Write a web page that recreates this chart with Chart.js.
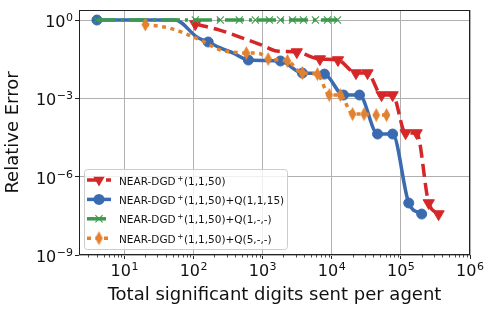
<!DOCTYPE html>
<html lang="en">
<head>
  <meta charset="UTF-8" />
  <title>Relative error vs digits sent</title>
  <style>
    body { margin: 0; background: #fff; }
    canvas { display: block; }
  </style>
</head>
<body>
  <canvas id="errChart" width="492" height="311"></canvas>

  <script src="https://cdn.jsdelivr.net/npm/chart.js"></script>
  <script>
    // series (x = total significant digits, y = relative error)
    const redX = [106, 239, 515, 970, 1600, 3120, 6730, 12300, 22400, 32900, 52500, 75900, 117000, 169000, 253000, 351000];
    const redY = [0.70, 0.41, 0.204, 0.110, 0.065, 0.0594, 0.032, 0.0294, 0.0093, 0.0093, 0.00134, 0.00134, 4.7e-5, 4.7e-5, 9.8e-8, 3.7e-8];
    const redMarks = [0, 5, 6, 7, 8, 9, 10, 11, 12, 13, 14, 15];

    const blueX = [4, 54, 113, 163, 244, 376, 621, 1810, 3760, 7830, 14800, 25200, 46000, 75900, 130000, 200000];
    const blueY = [1, 1, 0.22, 0.144, 0.085, 0.054, 0.0293, 0.0269, 0.0093, 0.0085, 0.00134, 0.00134, 4.3e-5, 4.3e-5, 9.8e-8, 3.7e-8];
    const blueMarks = [0, 3, 6, 7, 8, 9, 10, 11, 12, 13, 14, 15];

    const greenX = [4, 106, 244, 459, 783, 1250, 1810, 2700, 3890, 5800, 8670, 12100];
    const greenY = [1, 1, 1, 1, 1, 1, 1, 1, 1, 1, 1, 1];
    const greenMarks = [0, 1, 2, 3, 4, 5, 6, 7, 8, 9, 10, 11];

    const orangeX = [20, 44.5, 117, 245, 376, 580, 870, 1200, 2280, 3760, 6200, 9200, 13300, 20000, 29300, 44000, 62000];
    const orangeY = [0.67, 0.49, 0.187, 0.071, 0.059, 0.054, 0.054, 0.032, 0.027, 0.0093, 0.0085, 0.00134, 0.00134, 2.5e-4, 2.5e-4, 2.3e-4, 2.3e-4];
    const orangeMarks = [0, 5, 7, 8, 9, 10, 11, 12, 13, 14, 15, 16];

    // legend names: base, superscript, rest
    const seriesNames = [
      ['NEAR-DGD', '+', '(1,1,50)'],
      ['NEAR-DGD', '+', '(1,1,50)+Q(1,1,15)'],
      ['NEAR-DGD', '+', '(1,1,50)+Q(1,-,-)'],
      ['NEAR-DGD', '+', '(1,1,50)+Q(5,-,-)']
    ];
    const xTicks = [10, 100, 1000, 1e4, 1e5, 1e6];
    const yTicks = [1e-9, 1e-6, 1e-3, 1];

    const RED = '#d62728', BLUE = '#3a6bb0', GREEN = '#3d9a4c', ORANGE = '#e2812f';
    const FONT = '"DejaVu Sans", sans-serif';
    const INK = '#111';

    Chart.defaults.font.family = FONT;
    Chart.defaults.color = INK;

    // thin diamond marker (matplotlib 'd')
    function makeDiamond(color) {
      const cv = document.createElement('canvas');
      cv.width = 9; cv.height = 15;
      const g = cv.getContext('2d');
      g.fillStyle = color;
      g.beginPath();
      g.moveTo(4.5, 0.5); g.lineTo(8.3, 7.5); g.lineTo(4.5, 14.5); g.lineTo(0.7, 7.5);
      g.closePath();
      g.fill();
      return cv;
    }
    const diamond = makeDiamond(ORANGE);

    const pts = (xs, ys) => xs.map((x, i) => ({ x: x, y: ys[i] }));
    const radii = (xs, marks, r) => xs.map((_, i) => marks.includes(i) ? r : 0);
    const expo = v => String(Math.round(Math.log10(v))).replace('-', '\u2212');

    const datasets = [
      {
        label: seriesNames[0].join(''), data: pts(redX, redY), order: 4,
        borderColor: RED, borderWidth: 3.5, borderDash: [13, 6],
        pointStyle: 'triangle', pointRotation: 180, pointRadius: radii(redX, redMarks, 6.5),
        pointBackgroundColor: RED, pointBorderColor: RED, pointBorderWidth: 1
      },
      {
        label: seriesNames[1].join(''), data: pts(blueX, blueY), order: 3,
        borderColor: BLUE, borderWidth: 3.5,
        pointStyle: 'circle', pointRadius: radii(blueX, blueMarks, 5),
        pointBackgroundColor: BLUE, pointBorderColor: BLUE, pointBorderWidth: 1
      },
      {
        label: seriesNames[2].join(''), data: pts(greenX, greenY), order: 2,
        borderColor: GREEN, borderWidth: 3.5, borderDash: [19, 5, 3, 5],
        pointStyle: 'crossRot', pointRadius: radii(greenX, greenMarks, 5),
        pointBackgroundColor: GREEN, pointBorderColor: GREEN, pointBorderWidth: 1.1
      },
      {
        label: seriesNames[3].join(''), data: pts(orangeX, orangeY), order: 1,
        borderColor: ORANGE, borderWidth: 3.5, borderDash: [4, 4.5],
        pointStyle: diamond, pointRadius: radii(orangeX, orangeMarks, 5),
        pointBackgroundColor: ORANGE, pointBorderColor: ORANGE
      }
    ];

    function drawMarker(c, i, x, y) {
      const col = [RED, BLUE, GREEN, ORANGE][i];
      c.fillStyle = col; c.strokeStyle = col; c.setLineDash([]);
      c.beginPath();
      if (i === 0) {
        const r = 6.5;
        c.moveTo(x - r * 0.866, y - r * 0.5); c.lineTo(x + r * 0.866, y - r * 0.5); c.lineTo(x, y + r);
        c.closePath(); c.fill();
      } else if (i === 1) {
        c.arc(x, y, 5.5, 0, Math.PI * 2); c.fill();
      } else if (i === 2) {
        c.lineWidth = 1.1;
        c.moveTo(x - 3.6, y - 3.6); c.lineTo(x + 3.6, y + 3.6);
        c.moveTo(x + 3.6, y - 3.6); c.lineTo(x - 3.6, y + 3.6);
        c.stroke();
      } else {
        c.drawImage(diamond, x - 4.5, y - 7.5);
      }
    }

    // "10" with a raised exponent; align: 'center' or 'right'
    function powText(c, v, x, baseline, align) {
      const e = expo(v);
      c.font = '16px ' + FONT;
      const w1 = c.measureText('10').width;
      c.font = '11px ' + FONT;
      const w2 = c.measureText(e).width;
      const total = w1 + w2 + 0.5;
      const x0 = align === 'right' ? x - total : x - total / 2;
      c.textAlign = 'left'; c.textBaseline = 'alphabetic'; c.fillStyle = INK;
      c.font = '16px ' + FONT;
      c.fillText('10', x0, baseline);
      c.font = '11px ' + FONT;
      c.fillText(e, x0 + w1 + 0.5, baseline - 6);
    }

    // frame, tick labels, minor ticks and legend box
    const extras = {
      id: 'extras',
      afterDraw(chart) {
        const c = chart.ctx, a = chart.chartArea, xs = chart.scales.x, ys = chart.scales.y;
        c.save();
        c.strokeStyle = '#222'; c.lineWidth = 1;
        c.strokeRect(a.left + 0.5, a.top + 0.5, a.right - a.left - 1, a.bottom - a.top - 1);
        c.lineWidth = 0.8;
        c.beginPath();
        for (let d = 0; d < 6; d++) {
          for (let m = 2; m < 10; m++) {
            const v = m * Math.pow(10, d);
            if (v < xs.min || v > xs.max) continue;
            const px = Math.round(xs.getPixelForValue(v)) + 0.5;
            c.moveTo(px, a.bottom); c.lineTo(px, a.bottom + 2.5);
          }
        }
        c.stroke();

        xTicks.forEach(v => powText(c, v, xs.getPixelForValue(v), a.bottom + 21, 'center'));
        yTicks.forEach(v => powText(c, v, a.left - 6, ys.getPixelForValue(v) + 7, 'right'));

        // legend
        const bx = 84.5, by = 169.5, bw = 203, bh = 80, rr = 3;
        c.beginPath();
        c.moveTo(bx + rr, by); c.arcTo(bx + bw, by, bx + bw, by + bh, rr);
        c.arcTo(bx + bw, by + bh, bx, by + bh, rr); c.arcTo(bx, by + bh, bx, by, rr);
        c.arcTo(bx, by, bx + bw, by, rr); c.closePath();
        c.fillStyle = 'rgba(255,255,255,0.8)'; c.fill();
        c.strokeStyle = '#cccccc'; c.lineWidth = 1; c.stroke();

        datasets.forEach((ds, i) => {
          const y = 180 + i * 19.4;
          c.strokeStyle = ds.borderColor; c.lineWidth = ds.borderWidth;
          c.setLineDash(ds.borderDash || []);
          c.beginPath(); c.moveTo(87, y); c.lineTo(111, y); c.stroke();
          drawMarker(c, i, 99, y);
          const parts = seriesNames[i];
          c.fillStyle = INK; c.textBaseline = 'alphabetic'; c.textAlign = 'left';
          let tx = 119;
          c.font = '10.5px ' + FONT;
          c.fillText(parts[0], tx, y + 4.5);
          tx += c.measureText(parts[0]).width + 1.5;
          c.font = '7.5px ' + FONT;
          c.fillText(parts[1], tx, y + 0.5);
          tx += c.measureText(parts[1]).width + 0.5;
          c.font = '10.5px ' + FONT;
          c.fillText(parts[2], tx, y + 4.5);
        });
        c.restore();
      }
    };

    new Chart(document.getElementById('errChart'), {
      type: 'line',
      data: { datasets: datasets },
      options: {
        responsive: false,
        animation: false,
        layout: { padding: { top: 10, right: 22, left: 0, bottom: 0 } },
        elements: { line: { tension: 0.4, cubicInterpolationMode: 'monotone', fill: false } },
        plugins: { legend: { display: false }, tooltip: { enabled: false } },
        scales: {
          x: {
            type: 'logarithmic', min: 2.2, max: 1e6,
            afterBuildTicks: s => { s.ticks = xTicks.map(v => ({ value: v })); },
            afterFit: s => { s.height = 56; s.paddingLeft = 0; s.paddingRight = 0; },
            ticks: { display: false, autoSkip: false, maxRotation: 0 },
            grid: { color: '#b0b0b0', lineWidth: 1, tickColor: '#222', tickLength: 4 },
            border: { display: false },
            title: { display: true, text: 'Total significant digits sent per agent',
                     font: { size: 18 }, color: INK, padding: { top: 0, bottom: 4.5 } }
          },
          y: {
            type: 'logarithmic', min: 1e-9, max: 2.42,
            afterBuildTicks: s => { s.ticks = yTicks.map(v => ({ value: v })); },
            afterFit: s => { s.width = 79; s.paddingTop = 0; s.paddingBottom = 0; },
            ticks: { display: false, autoSkip: false },
            grid: { color: '#b0b0b0', lineWidth: 1, tickColor: '#222', tickLength: 4 },
            border: { display: false },
            title: { display: true, text: 'Relative Error',
                     font: { size: 18 }, color: INK, padding: { top: 3, bottom: 0 } }
          }
        }
      },
      plugins: [extras]
    });
  </script>
</body>
</html>
